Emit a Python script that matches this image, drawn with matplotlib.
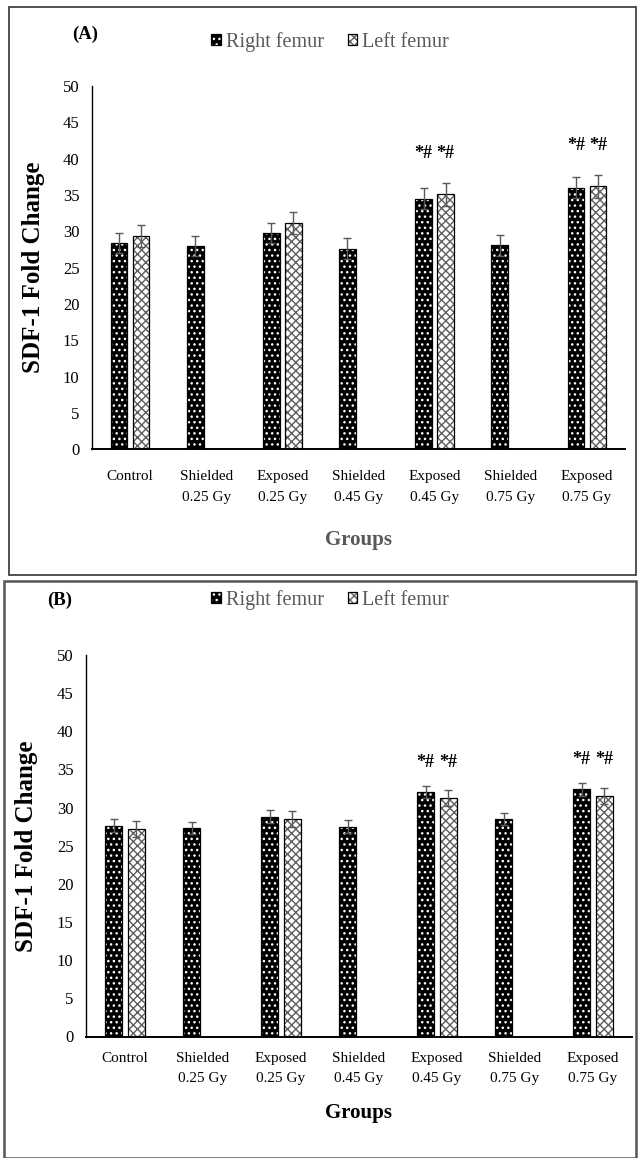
"""SDF-1 fold change in right and left femur, panels (A) and (B)."""
import numpy as np
import matplotlib.pyplot as plt
from matplotlib.patches import Rectangle

plt.rcParams['font.family'] = ['Liberation Serif', 'DejaVu Serif']
plt.rcParams['hatch.linewidth'] = 1.0

groups = ['Control', 'Shielded\n0.25 Gy', 'Exposed\n0.25 Gy', 'Shielded\n0.45 Gy',
          'Exposed\n0.45 Gy', 'Shielded\n0.75 Gy', 'Exposed\n0.75 Gy']
series = ['Right femur', 'Left femur']

# panel A values (None = no bar)
a_right = [28.4, 28.0, 29.8, 27.6, 34.5, 28.1, 36.0]
a_right_err = [1.35, 1.4, 1.4, 1.45, 1.4, 1.45, 1.45]
a_left = [29.4, None, 31.1, None, 35.1, None, 36.2]
a_left_err = [1.5, None, 1.5, None, 1.6, None, 1.55]

# panel B values
b_right = [27.6, 27.35, 28.8, 27.5, 32.0, 28.5, 32.4]
b_right_err = [0.85, 0.8, 0.85, 0.85, 0.8, 0.75, 0.85]
b_left = [27.2, None, 28.5, None, 31.2, None, 31.5]
b_left_err = [1.0, None, 1.05, None, 1.05, None, 1.05]

# significance marks per group
signif = ['', '', '', '', '*#', '', '*#']

GRAY = '#595959'


def draw_panel(ax, right, right_err, left, left_err, tag, group_color,
               lab_pad, xlab_y, ann_off, tag_xy, leg_xy):
    x = np.arange(len(groups))
    w = 0.22
    off = 0.145
    r = np.array(right, dtype=float)
    re = np.array(right_err, dtype=float)
    l = np.array([np.nan if v is None else v for v in left])
    le = np.array([np.nan if v is None else v for v in left_err])
    lm = ~np.isnan(l)

    hr = ax.bar(x - off, r, w, color='black', edgecolor='white', hatch='...',
                linewidth=0, zorder=2)
    orr = ax.bar(x - off, r, w, fill=False, edgecolor='black', linewidth=0.9,
                 zorder=3)
    hl = ax.bar(x[lm] + off, l[lm], w, color='white', edgecolor='#5e5e5e',
                hatch='xxxx', linewidth=0, zorder=2)
    ol = ax.bar(x[lm] + off, l[lm], w, fill=False, edgecolor='black',
                linewidth=0.9, zorder=3)
    ax.errorbar(x - off, r, yerr=re, fmt='none', ecolor=GRAY, elinewidth=1,
                capsize=3.2, capthick=1, zorder=4)
    ax.errorbar(x[lm] + off, l[lm], yerr=le[lm], fmt='none', ecolor=GRAY,
                elinewidth=1, capsize=3.2, capthick=1, zorder=4)

    for i, s in enumerate(signif):
        if not s:
            continue
        top = np.nanmax([r[i] + re[i], l[i] + le[i]])
        for xi in (x[i] - off, x[i] + off):
            ax.annotate(s, (xi, top), xytext=(0, ann_off),
                        textcoords='offset points', ha='center', va='center',
                        fontsize=13, fontweight='bold')

    ax.set_xlim(-0.5, len(groups) - 0.5)
    ax.set_ylim(0, 50)
    ax.set_yticks(np.arange(0, 51, 5))
    ax.set_xticks(x)
    ax.set_xticklabels(groups, fontsize=11, linespacing=1.75)
    ax.tick_params(axis='x', length=0, pad=lab_pad)
    ax.tick_params(axis='y', length=0, pad=9, labelsize=12)
    for sp in ('top', 'right'):
        ax.spines[sp].set_visible(False)
    ax.spines['left'].set_linewidth(1.0)
    ax.spines['bottom'].set_linewidth(1.4)

    ax.set_ylabel('SDF-1 Fold Change', fontsize=18, fontweight='bold')
    ax.yaxis.set_label_coords(-0.088, 0.5)
    ax.text(0.5, xlab_y, 'Groups', transform=ax.transAxes, ha='center',
            va='center', fontsize=15, fontweight='bold', color=group_color)

    fig.text(tag_xy[0], tag_xy[1], tag, ha='center', va='center',
             fontsize=13.5, fontweight='bold')
    fig.legend([(hr, orr), (hl, ol)], series, loc='center',
               bbox_to_anchor=leg_xy, ncol=2, frameon=False, fontsize=14.5,
               labelcolor=GRAY, handlelength=0.45, handleheight=0.45,
               handletextpad=0.25, columnspacing=1.2, borderpad=0)


fig = plt.figure(figsize=(6.38, 11.58), dpi=100)
H = 1158.0
W = 638.0

# panel frames
fig.add_artist(Rectangle((9 / W, 1 - 575 / H), (636 - 9) / W, (575 - 7) / H,
                         transform=fig.transFigure, fill=False,
                         edgecolor='#333333', linewidth=1.2))
fig.add_artist(Rectangle((4 / W, 0.0), (636 - 4) / W, 1 - 581 / H,
                         transform=fig.transFigure, fill=False,
                         edgecolor='#555555', linewidth=1.8))

axA = fig.add_axes([92 / W, 1 - 449.3 / H, (625 - 92) / W, 363.3 / H])
draw_panel(axA, a_right, a_right_err, a_left, a_left_err, '(A)', GRAY,
           lab_pad=15, xlab_y=-0.25, ann_off=21,
           tag_xy=(85.5 / W, 1 - 34 / H), leg_xy=(330 / W, 1 - 42 / H))

axB = fig.add_axes([86 / W, 1 - 1036.5 / H, (632 - 86) / W, 381.5 / H])
draw_panel(axB, b_right, b_right_err, b_left, b_left_err, '(B)', 'black',
           lab_pad=11, xlab_y=-0.2, ann_off=17,
           tag_xy=(60 / W, 1 - 600 / H), leg_xy=(330 / W, 1 - 600 / H))

fig.savefig('out.png', dpi=100)
